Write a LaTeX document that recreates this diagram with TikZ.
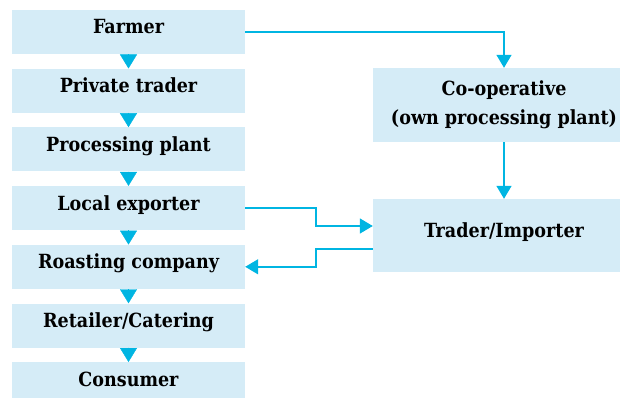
\documentclass[tikz,border=0pt]{standalone}
\usepackage{fontspec}
\setmainfont{DejaVu Serif Condensed}
\usepackage{tikz}
\usetikzlibrary{arrows.meta,positioning}
\definecolor{boxblue}{RGB}{213,236,247}
\definecolor{flowcyan}{RGB}{0,181,226}

\begin{document}
\begin{tikzpicture}[x=1pt,y=1pt,
block_chain/.style ={rectangle, draw=none, fill=boxblue, minimum width=233pt, minimum height=44pt, inner sep=0pt, text height=14pt, text depth=10pt, font=\fontsize{19.5}{29}\selectfont\bfseries},
block_side/.style ={rectangle, draw=none, fill=boxblue, minimum width=262pt, inner sep=0pt, align=center, font=\fontsize{19.5}{29}\selectfont\bfseries},
step_tip/.style ={draw=flowcyan, fill=flowcyan, line width=0.4pt, -{Triangle[length=14pt,width=17pt]}},
line/.style ={draw=flowcyan, line width=1.5pt, -{Triangle[length=13pt,width=15pt]}}]
  \useasboundingbox (0,0) rectangle (620,-398);
  % supply chain - left column
    \node [block_chain] (farmer) at (128.5,-32) {Farmer};
    \node [block_chain, below=14.3pt of farmer] (private) {Private trader};
    \node [block_chain, below=14.3pt of private] (plant) {Processing plant};
    \node [block_chain, below=14.3pt of plant] (exporter) {Local exporter};
    \node [block_chain, below=14.3pt of exporter] (roasting) {Roasting company};
    \node [block_chain, below=14.3pt of roasting] (retailer) {Retailer/Catering};
    \node [block_chain, below=14.3pt of retailer] (consumer) {Consumer};
  % supply chain - right column
    \node [block_side, minimum height=74pt] (coop) at (504,-105) {Co-operative\\(own processing plant)};
    \node [block_side, minimum height=73pt, text height=14pt, text depth=10pt] (importer) at (504,-235.5) {Trader/Importer};
  % connecting nodes with paths
    \begin{scope}[every path/.style=step_tip]
      \path (farmer)   -- (private);
      \path (private)  -- (plant);
      \path (plant)    -- (exporter);
      \path (exporter) -- (roasting);
      \path (roasting) -- (retailer);
      \path (retailer) -- (consumer);
    \end{scope}
    \begin{scope}[every path/.style=line]
      \path (farmer.east) -| (coop.north);
      \path (coop) -- (importer);
      \path (exporter.east) -- ++(71pt,0) |- ([yshift=9.5pt]importer.west);
      \path ([yshift=-13.5pt]importer.west) -- ++(-57pt,0) |- (roasting.east);
    \end{scope}
\end{tikzpicture}
\end{document}
